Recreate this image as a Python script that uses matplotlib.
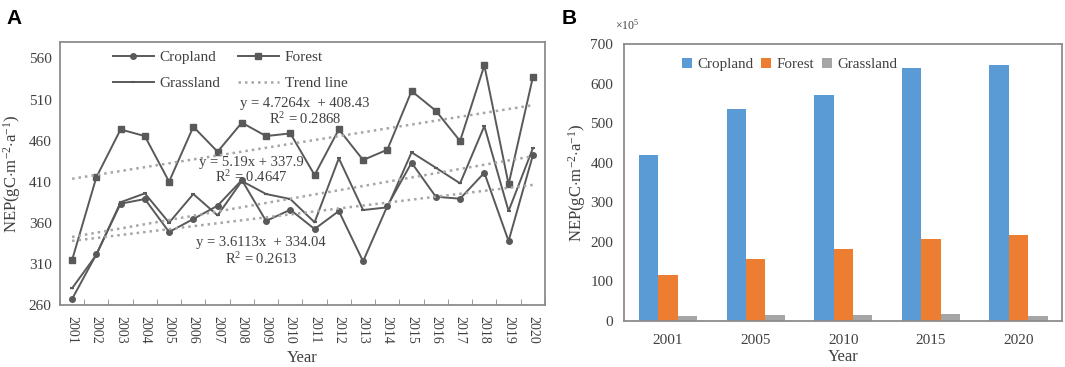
import numpy as np
import matplotlib
matplotlib.use("Agg")
import matplotlib.pyplot as plt

plt.rcParams['font.family'] = ['Liberation Serif', 'DejaVu Serif']
plt.rcParams['mathtext.fontset'] = 'custom'
plt.rcParams['mathtext.rm'] = 'Liberation Serif'
plt.rcParams['mathtext.it'] = 'Liberation Serif:italic'

# ---- panel A data: annual NEP per land type ----
years = list(range(2001, 2021))
cropland = [267.3, 321.6, 383.2, 388.9, 348.8, 364.6, 380.8, 412.0, 362.2, 375.9,
            352.4, 374.3, 313.1, 380.4, 433.1, 391.7, 389.3, 420.9, 337.8, 442.0]
forest = [314.7, 415.3, 473.6, 465.5, 410.0, 476.9, 446.5, 481.8, 465.5, 468.8,
          418.1, 473.7, 436.4, 448.9, 520.3, 496.3, 459.5, 551.5, 406.8, 536.9]
grassland = [280.3, 321.0, 385.0, 395.8, 360.1, 395.0, 369.0, 410.8, 395.0, 388.9,
             360.6, 438.4, 375.5, 378.8, 445.7, 427.0, 408.0, 477.7, 374.3, 450.6]

# ---- panel B data: total NEP (x10^5) ----
bar_years = ['2001', '2005', '2010', '2015', '2020']
bar_cropland = [419, 536, 570, 639, 646]
bar_forest = [117, 157, 181, 208, 217]
bar_grassland = [12.6, 15.2, 15.2, 17.7, 12.6]

line_c = '#595959'
text_c = '#404040'
spine_c = '#8c8c8c'
ylab = r'NEP(gC$\cdot$m$^{-2}$$\cdot$a$^{-1}$)'

fig = plt.figure(figsize=(10.65, 3.67), dpi=100)

# ================= panel A =================
ax1 = fig.add_axes([0.0563, 0.169, 0.4554, 0.7166])
x = np.array(years)
ax1.plot(x, cropland, color=line_c, lw=1.4, marker='o', ms=4, label='Cropland')
ax1.plot(x, grassland, color=line_c, lw=1.4, marker='_', ms=3, mew=1.5, label='Grassland')
ax1.plot(x, forest, color=line_c, lw=1.4, marker='s', ms=4, label='Forest')

# linear trends fitted to each series (x = 1..20)
t = np.arange(1, len(years) + 1)
first = True
for series in (cropland, grassland, forest):
    k, b = np.polyfit(t, series, 1)
    ax1.plot(x, k * t + b, color='#a6a6a6', lw=1.8, ls=(0, (1, 1.6)),
             label='Trend line' if first else None)
    first = False

fs = 10.5
ax1.text(2010.6, 505, 'y = 4.7264x  + 408.43', ha='center', va='center', fontsize=fs, color=text_c)
ax1.text(2010.6, 486, 'R$^2$ = 0.2868', ha='center', va='center', fontsize=fs, color=text_c)
ax1.text(2008.4, 433, 'y = 5.19x + 337.9', ha='center', va='center', fontsize=fs, color=text_c)
ax1.text(2008.4, 416, 'R$^2$ = 0.4647', ha='center', va='center', fontsize=fs, color=text_c)
ax1.text(2008.8, 336, 'y = 3.6113x  + 334.04', ha='center', va='center', fontsize=fs, color=text_c)
ax1.text(2008.8, 316, 'R$^2$ = 0.2613', ha='center', va='center', fontsize=fs, color=text_c)

ax1.set_xlim(2000.5, 2020.5)
ax1.set_ylim(260, 580)
ax1.set_yticks(range(260, 561, 50))
ax1.set_xticks(years)
ax1.set_xticklabels([str(y) for y in years], rotation=-90)
ax1.set_xticks(np.arange(2000.5, 2021, 1), minor=True)
ax1.tick_params(axis='x', which='major', length=0, labelsize=10, colors=text_c, pad=8)
ax1.tick_params(axis='x', which='minor', length=4, direction='in', color=spine_c)
ax1.tick_params(axis='y', length=0, labelsize=11, colors=text_c, pad=6)
for s in ax1.spines.values():
    s.set_color(spine_c)
    s.set_linewidth(1.3)
ax1.set_xlabel('Year', fontsize=12, color=text_c, labelpad=4)
ax1.set_ylabel(ylab, fontsize=12, color=text_c, labelpad=4)

leg = ax1.legend(loc='upper left', bbox_to_anchor=(0.08, 1.02), ncol=2, frameon=False,
                 fontsize=11, handlelength=2.7, columnspacing=1.1, labelspacing=0.8,
                 handletextpad=0.4)
for txt in leg.get_texts():
    txt.set_color(text_c)

# ================= panel B =================
ax2 = fig.add_axes([0.5862, 0.1253, 0.4113, 0.7548])
pos = np.arange(len(bar_years))
w = 0.222
ax2.bar(pos - w, bar_cropland, w, color='#5b9bd5', label='Cropland')
ax2.bar(pos, bar_forest, w, color='#ed7d31', label='Forest')
ax2.bar(pos + w, bar_grassland, w, color='#a5a5a5', label='Grassland')
ax2.set_xlim(-0.5, len(bar_years) - 0.5)
ax2.set_ylim(0, 700)
ax2.set_yticks(range(0, 701, 100))
ax2.set_xticks(pos)
ax2.set_xticklabels(bar_years)
ax2.tick_params(axis='both', length=0, labelsize=11, colors=text_c)
ax2.tick_params(axis='x', pad=9)
ax2.tick_params(axis='y', pad=8)
for s in ax2.spines.values():
    s.set_color(spine_c)
    s.set_linewidth(1.3)
ax2.set_xlabel('Year', fontsize=12, color=text_c, labelpad=2)
ax2.set_ylabel(ylab, fontsize=12, color=text_c, labelpad=2)
ax2.text(0.007, 1.04, r'$\times$10$^5$', transform=ax2.transAxes, ha='center',
         va='bottom', fontsize=8.5, color=text_c)
leg2 = ax2.legend(loc='upper left', bbox_to_anchor=(0.10, 1.0), ncol=3, frameon=False,
                  fontsize=10.8, handlelength=0.7, handleheight=0.7, columnspacing=0.5,
                  handletextpad=0.35)
for txt in leg2.get_texts():
    txt.set_color(text_c)

fig.text(0.006, 0.975, 'A', fontsize=15, fontweight='bold', family='Liberation Sans', va='top')
fig.text(0.527, 0.975, 'B', fontsize=15, fontweight='bold', family='Liberation Sans', va='top')

fig.savefig('out.png', dpi=100)
